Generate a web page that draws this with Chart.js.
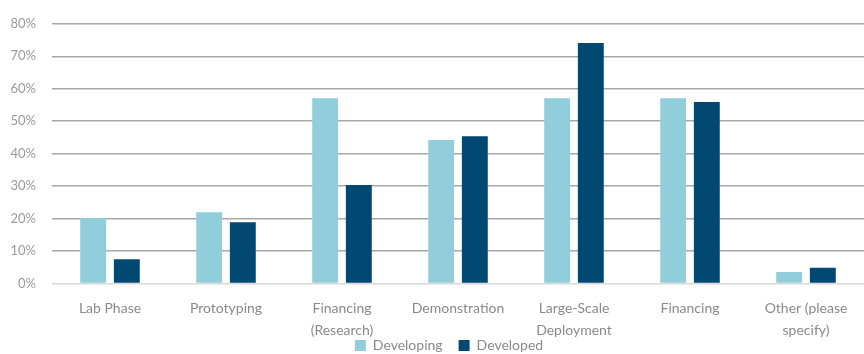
<!DOCTYPE html>
<html>
<head>
<meta charset="utf-8">
<script src="https://cdn.jsdelivr.net/npm/chart.js@4.4.0/dist/chart.umd.min.js"></script>
<style>
  html, body { margin: 0; padding: 0; background: #fff; }
  #wrap { width: 864px; height: 354px; }
</style>
</head>
<body>
<div id="wrap"><canvas id="grapharea"></canvas></div>
<script>
const categories = [
    'Lab Phase',
    'Prototyping',
    ['Financing', '(Research)'],
    'Demonstration',
    ['Large-Scale', 'Deployment'],
    'Financing',
    ['Other (please', 'specify)']
];
const developingValues = [20.2, 22.0, 57.1, 44.2, 57.1, 57.1, 3.6];
const developedValues = [7.5, 18.9, 30.4, 45.4, 74.1, 55.9, 4.9];
const yTicks = [0, 10, 20, 30, 40, 50, 60, 70, 80];

const grapharea = document.getElementById('grapharea');

// pull the legend up so it sits over the second line of category labels
const legendMove = {
    id: 'legendMove',
    afterLayout(chart) {
        const lg = chart.legend;
        const h = lg.height;
        lg.top = chart.chartArea.bottom + 39;
        lg.bottom = lg.top + h;
        lg.left = 0;
        lg.right = 898;
        lg.width = 898;
    }
};

let CurrencyChart = new Chart(grapharea, {
    type: 'bar',
    data: {
        labels: categories,
        datasets: [{
            label: 'Developing',
            data: developingValues,
            backgroundColor: '#92cddc',
            borderWidth: 0
        }, {
            label: 'Developed',
            data: developedValues,
            backgroundColor: '#014872',
            borderWidth: 0
        }]
    },
    plugins: [legendMove],
    options: {
        responsive: true,
        maintainAspectRatio: false,
        animation: false,
        categoryPercentage: 0.58,
        barPercentage: 0.77,
        layout: {
            padding: { top: 8, right: -10, left: 10, bottom: -41 }
        },
        plugins: {
            tooltip: { enabled: false },
            legend: {
                position: 'bottom',
                labels: {
                    boxWidth: 11,
                    boxHeight: 11,
                    padding: 16,
                    color: '#8a8a8a',
                    font: { family: 'Lato', size: 14 }
                }
            }
        },
        scales: {
            x: {
                grid: { display: false, drawTicks: false },
                border: { display: false },
                afterFit: axis => { axis.paddingLeft = 0; axis.paddingRight = 0; },
                ticks: {
                    color: '#8a8a8a',
                    maxRotation: 0,
                    autoSkip: false,
                    padding: 14,
                    font: { family: 'Lato', size: 14, lineHeight: 1.55 }
                }
            },
            y: {
                min: 0,
                max: 80,
                afterBuildTicks: axis => { axis.ticks = yTicks.map(v => ({ value: v })); },
                afterFit: axis => { axis.width = 42; },
                border: { display: false },
                grid: {
                    drawTicks: false,
                    lineWidth: 1.5,
                    color: ctx => ctx.tick && ctx.tick.value === 0 ? '#d8d8d8' : '#a8a8a8'
                },
                ticks: {
                    color: '#9a9a9a',
                    padding: 16,
                    font: { family: 'Lato', size: 13 },
                    callback: v => v + '%'
                }
            }
        }
    }
});
</script>
</body>
</html>
